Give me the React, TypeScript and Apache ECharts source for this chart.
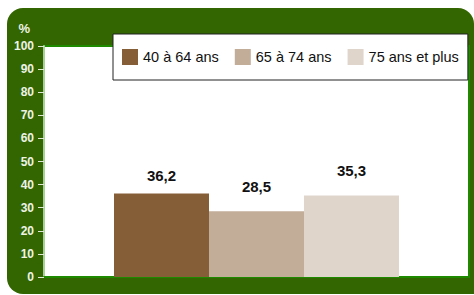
import React, { useEffect, useRef } from "react";
import * as echarts from "echarts";

const categories = [""];
const seriesNames = ["40 à 64 ans", "65 à 74 ans", "75 ans et plus"];
const seriesValues = [36.2, 28.5, 35.3];
const seriesColors = ["#855E37", "#C2AD99", "#DFD5CB"];
const labelDistances = [10, 17, 17];
const yTicks = { min: 0, max: 100, interval: 10 };

const FONT = '"Liberation Sans", Arial, sans-serif';

export default function App() {
  const ref = useRef<HTMLDivElement>(null);
  useEffect(() => {
    if (!ref.current) return;
    const chart = echarts.init(ref.current, null, { renderer: "svg" });
    chart.setOption({
      animation: false,
      backgroundColor: "#ffffff",
      graphic: [
        {
          type: "rect",
          z: -10,
          silent: true,
          shape: { x: 7, y: 8, width: 467, height: 286, r: [16, 16, 0, 16] },
          style: { fill: "#336600" },
        },
      ],
      grid: {
        left: 44,
        right: 5,
        top: 46,
        bottom: 18,
        show: true,
        backgroundColor: "#ffffff",
        borderColor: "#1f8a00",
        borderWidth: 2,
      },
      legend: {
        left: 113,
        top: 34,
        data: seriesNames,
        backgroundColor: "#ffffff",
        borderColor: "#222222",
        borderWidth: 1,
        borderRadius: 0,
        padding: [15, 9, 15, 9],
        itemGap: 16,
        itemWidth: 16,
        itemHeight: 16,
        icon: "rect",
        textStyle: { fontFamily: FONT, fontSize: 14.5, color: "#111111" },
      },
      xAxis: {
        type: "category",
        data: categories,
        axisLine: { show: true, lineStyle: { color: "#1f8a00", width: 2 } },
        axisTick: { show: false },
        axisLabel: { show: false },
      },
      yAxis: {
        type: "value",
        min: yTicks.min,
        max: yTicks.max,
        interval: yTicks.interval,
        name: "%",
        nameLocation: "end",
        nameGap: 11,
        nameTextStyle: {
          fontFamily: FONT,
          fontSize: 13,
          fontWeight: "bold",
          color: "#eef3e6",
          align: "right",
          padding: [0, 14, 0, 0],
        },
        axisLine: { show: true, lineStyle: { color: "#a8d098", width: 2 } },
        axisTick: { show: true, length: 6, lineStyle: { color: "#dfe9d5", width: 1 } },
        axisLabel: { fontFamily: FONT, fontSize: 12, fontWeight: "bold", color: "#eef3e6", margin: 10 },
        splitLine: { show: false },
      },
      series: seriesNames.map((name, i) => ({
        name,
        type: "bar",
        data: [seriesValues[i]],
        barWidth: 95,
        barGap: "0%",
        itemStyle: { color: seriesColors[i] },
        label: {
          show: true,
          position: "top",
          distance: labelDistances[i],
          fontFamily: FONT,
          fontSize: 15,
          fontWeight: "bold",
          color: "#111111",
          formatter: (p: any) => String(p.value).replace(".", ","),
        },
      })),
    });
    return () => chart.dispose();
  }, []);
  return <div ref={ref} style={{ width: 474, height: 295, position: "absolute", left: 0, top: 0 }} />;
}
